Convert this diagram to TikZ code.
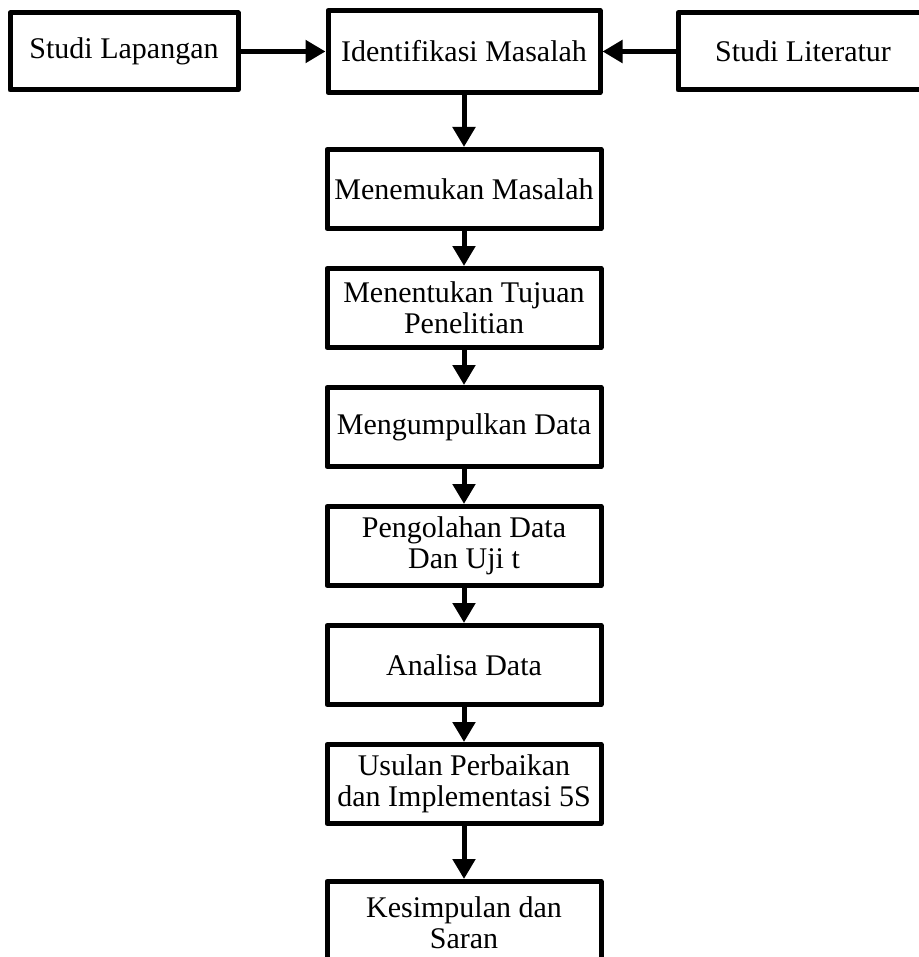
\documentclass[tikz,border=0pt]{standalone}
\usepackage{fontspec}
\setmainfont{Liberation Serif}
\usepackage{tikz}
\usetikzlibrary{positioning, arrows.meta}

\begin{document}
\begin{tikzpicture}[
        kotak/.style={rectangle, draw, line width=2.5pt, line join=round, minimum width=137pt, minimum height=39.5pt, inner sep=2pt, align=center, font=\fontsize{15pt}{15.5pt}\selectfont},
        panah/.style={line width=2.5pt, -{Triangle[length=10pt, width=11pt]}}
    ]
        \useasboundingbox (0,0) rectangle (459.5pt,-478.5pt);

        \node[kotak, minimum width=136pt, minimum height=41pt](2) at (232pt,-25.75pt){Identifikasi Masalah};
        \node[kotak, minimum width=114pt, minimum height=38.5pt](1)[left = 42.5pt of 2]{Studi Lapangan};
        \node[kotak, minimum width=125pt, minimum height=38.5pt](3)[right = 36.5pt of 2]{Studi Literatur};
        \node[kotak](4)[below = 26pt of 2]{Menemukan Masalah};
        \node[kotak](5)[below = 17.5pt of 4]{Menentukan Tujuan\\Penelitian};
        \node[kotak](6)[below = 17.5pt of 5]{Mengumpulkan Data};
        \node[kotak](7)[below = 17.5pt of 6]{Pengolahan Data\\Dan Uji t};
        \node[kotak](8)[below = 17.5pt of 7]{Analisa Data};
        \node[kotak](9)[below = 17.5pt of 8]{Usulan Perbaikan\\dan Implementasi 5S};
        \node[kotak, minimum height=41pt](10)[below = 26.5pt of 9]{Kesimpulan dan\\Saran};

        \path[draw, panah]
        (1) edge (2)
        (3) edge (2)
        (2) edge (4)
        (4) edge (5)
        (5) edge (6)
        (6) edge (7)
        (7) edge (8)
        (8) edge (9)
        (9) edge (10);
    \end{tikzpicture}
\end{document}
